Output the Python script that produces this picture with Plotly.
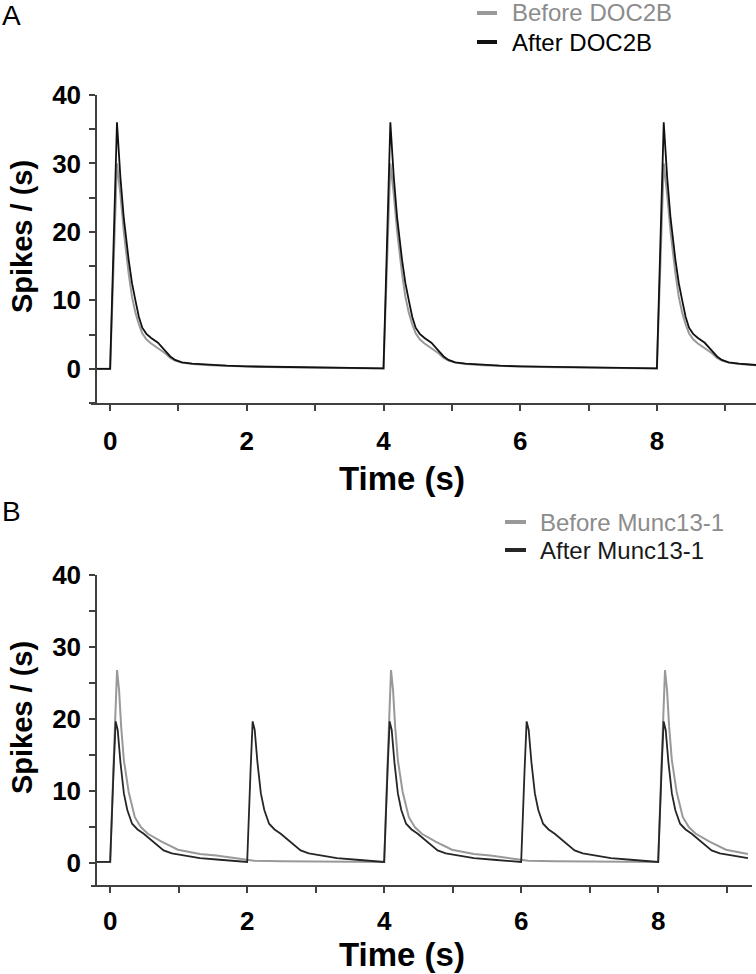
import plotly.graph_objects as go

# ---------------- Data ----------------
# Panel A: DOC2B
t_A = [-0.20, 0.00, 0.05, 0.10, 0.15, 0.20, 0.27, 0.32, 0.37, 0.42, 0.47, 0.53, 0.60, 0.70, 0.80, 0.88, 0.95, 1.05, 1.20, 1.45, 1.70, 2.00, 2.50, 3.00, 3.50,
       4.00, 4.05, 4.10, 4.15, 4.20, 4.27, 4.32, 4.37, 4.42, 4.47, 4.53, 4.60, 4.70, 4.80, 4.88, 4.95, 5.05, 5.20, 5.45, 5.70, 6.00, 6.50, 7.00, 7.50,
       8.00, 8.05, 8.10, 8.15, 8.20, 8.27, 8.32, 8.37, 8.42, 8.47, 8.53, 8.60, 8.70, 8.80, 8.88, 8.95, 9.05, 9.20, 9.45]
before_A = [0, 0, 15, 30, 25.5, 20, 14, 10.5, 8.2, 6.5, 5.2, 4.3, 3.7, 3.0, 2.3, 1.6, 1.2, 0.9, 0.7, 0.52, 0.42, 0.33, 0.23, 0.14, 0.08,
            0.05, 15, 30, 25.5, 20, 14, 10.5, 8.2, 6.5, 5.2, 4.3, 3.7, 3.0, 2.3, 1.6, 1.2, 0.9, 0.7, 0.52, 0.42, 0.33, 0.23, 0.14, 0.08,
            0.05, 15, 30, 25.5, 20, 14, 10.5, 8.2, 6.5, 5.2, 4.3, 3.7, 3.0, 2.3, 1.6, 1.2, 0.9, 0.7, 0.52]
after_A = [0, 0, 18, 36, 28, 22, 16, 12.5, 10, 7.6, 6.0, 5.1, 4.5, 3.8, 2.7, 1.8, 1.3, 0.95, 0.75, 0.55, 0.45, 0.35, 0.25, 0.15, 0.08,
           0.05, 18, 36, 28, 22, 16, 12.5, 10, 7.6, 6.0, 5.1, 4.5, 3.8, 2.7, 1.8, 1.3, 0.95, 0.75, 0.55, 0.45, 0.35, 0.25, 0.15, 0.08,
           0.05, 18, 36, 28, 22, 16, 12.5, 10, 7.6, 6.0, 5.1, 4.5, 3.8, 2.7, 1.8, 1.3, 0.95, 0.75, 0.55]

# Panel B: Munc13-1
t_B_before = [-0.20, 0.00, 0.05, 0.10, 0.13, 0.16, 0.20, 0.27, 0.36, 0.45, 0.55, 0.75, 0.99, 1.31, 1.55, 1.89, 2.10, 2.50, 3.00, 3.50, 3.98,
              4.00, 4.05, 4.10, 4.13, 4.16, 4.20, 4.27, 4.36, 4.45, 4.55, 4.75, 4.99, 5.31, 5.55, 5.89, 6.10, 6.50, 7.00, 7.50, 7.98,
              8.00, 8.05, 8.10, 8.13, 8.16, 8.20, 8.27, 8.36, 8.45, 8.55, 8.75, 8.99, 9.31]
before_B = [0.2, 0.2, 14, 26.8, 24, 19, 14.3, 9.9, 6.4, 5.0, 4.1, 3.0, 1.9, 1.3, 1.1, 0.65, 0.35, 0.3, 0.25, 0.22, 0.2,
            0.2, 14, 26.8, 24, 19, 14.3, 9.9, 6.4, 5.0, 4.1, 3.0, 1.9, 1.3, 1.1, 0.65, 0.35, 0.3, 0.25, 0.22, 0.2,
            0.2, 14, 26.8, 24, 19, 14.3, 9.9, 6.4, 5.0, 4.1, 3.0, 1.9, 1.3]

t_B_after = [-0.20, 0.00, 0.05, 0.08, 0.11, 0.15, 0.20, 0.25, 0.32, 0.40, 0.49, 0.63, 0.78, 0.90, 1.07, 1.31, 1.60, 1.98,
             2.00, 2.05, 2.08, 2.11, 2.15, 2.20, 2.25, 2.32, 2.40, 2.49, 2.63, 2.78, 2.90, 3.07, 3.31, 3.60, 3.98,
             4.00, 4.05, 4.08, 4.11, 4.15, 4.20, 4.25, 4.32, 4.40, 4.49, 4.63, 4.78, 4.90, 5.07, 5.31, 5.60, 5.98,
             6.00, 6.05, 6.08, 6.11, 6.15, 6.20, 6.25, 6.32, 6.40, 6.49, 6.63, 6.78, 6.90, 7.07, 7.31, 7.60, 7.98,
             8.00, 8.05, 8.08, 8.11, 8.15, 8.20, 8.25, 8.32, 8.40, 8.49, 8.63, 8.78, 8.90, 9.07, 9.31]
after_B = [0.2, 0.2, 13, 19.7, 18.5, 14, 9.7, 7.4, 5.5, 4.7, 4.1, 3.0, 1.8, 1.4, 1.1, 0.74, 0.5, 0.2,
           0.2, 13, 19.7, 18.5, 14, 9.7, 7.4, 5.5, 4.7, 4.1, 3.0, 1.8, 1.4, 1.1, 0.74, 0.5, 0.2,
           0.2, 13, 19.7, 18.5, 14, 9.7, 7.4, 5.5, 4.7, 4.1, 3.0, 1.8, 1.4, 1.1, 0.74, 0.5, 0.2,
           0.2, 13, 19.7, 18.5, 14, 9.7, 7.4, 5.5, 4.7, 4.1, 3.0, 1.8, 1.4, 1.1, 0.74, 0.5, 0.2,
           0.2, 13, 19.7, 18.5, 14, 9.7, 7.4, 5.5, 4.7, 4.1, 3.0, 1.8, 1.4, 1.1, 0.74]

x_tick_vals = [0, 1, 2, 3, 4, 5, 6, 7, 8, 9]
x_tick_text = ["0", "", "2", "", "4", "", "6", "", "8", ""]
yA_tick_vals = [-5, 0, 5, 10, 15, 20, 25, 30, 35, 40]
yA_tick_text = ["", "0", "", "10", "", "20", "", "30", "", "40"]
yB_tick_vals = [0, 5, 10, 15, 20, 25, 30, 35, 40]
yB_tick_text = ["0", "", "10", "", "20", "", "30", "", "40"]

names_A = ["Before DOC2B", "After DOC2B"]
names_B = ["Before Munc13-1", "After Munc13-1"]

# ---------------- Styling ----------------
W, H = 756, 974
FONT = "Arial, Liberation Sans, sans-serif"
GRAY = "#999999"
GRAY_TXT = "#8c8c8c"
BLACK_A = "#111111"
DARK_B = "#262626"
AXIS = "#404040"


def px(x):
    return x / W


def py(y):
    return 1 - y / H


fig = go.Figure()

# Panel A traces
fig.add_trace(go.Scatter(x=t_A, y=before_A, mode="lines", line=dict(color=GRAY, width=2),
                         name=names_A[0], xaxis="x", yaxis="y", showlegend=False, hoverinfo="skip"))
fig.add_trace(go.Scatter(x=t_A, y=after_A, mode="lines", line=dict(color=BLACK_A, width=1.8),
                         name=names_A[1], xaxis="x", yaxis="y", showlegend=False, hoverinfo="skip"))
# Panel B traces
fig.add_trace(go.Scatter(x=t_B_before, y=before_B, mode="lines", line=dict(color=GRAY, width=2),
                         name=names_B[0], xaxis="x2", yaxis="y2", showlegend=False, hoverinfo="skip"))
fig.add_trace(go.Scatter(x=t_B_after, y=after_B, mode="lines", line=dict(color=DARK_B, width=1.8),
                         name=names_B[1], xaxis="x2", yaxis="y2", showlegend=False, hoverinfo="skip"))

tickfont = dict(family=FONT, size=26, color="black", weight="bold")
common_x = dict(showline=True, linecolor=AXIS, linewidth=1.5, ticks="outside", ticklen=6,
                tickwidth=1.5, tickcolor=AXIS, showgrid=False, zeroline=False, automargin=False,
                tickmode="array", tickvals=x_tick_vals, ticktext=x_tick_text, tickfont=tickfont)
common_y = dict(showline=True, linecolor=AXIS, linewidth=1.5, ticks="outside", ticklen=6,
                tickwidth=1.5, tickcolor=AXIS, showgrid=False, zeroline=False, automargin=False,
                tickmode="array", tickfont=tickfont, anchor="free", position=px(96),
                ticklabelstandoff=3)

fig.update_layout(
    width=W, height=H,
    margin=dict(l=0, r=0, t=0, b=0, autoexpand=False),
    paper_bgcolor="white", plot_bgcolor="rgba(0,0,0,0)",
    showlegend=False,
    xaxis=dict(domain=[px(91), 1.0], range=[-0.28, 9.45], anchor="y", ticklabelstandoff=8, **common_x),
    yaxis=dict(domain=[py(403), py(95)], range=[-5, 40], tickvals=yA_tick_vals, ticktext=yA_tick_text, **common_y),
    xaxis2=dict(domain=[px(91), px(752)], range=[-0.28, 9.37], anchor="y2", ticklabelstandoff=6, **common_x),
    yaxis2=dict(domain=[py(885), py(575)], range=[-3, 40], tickvals=yB_tick_vals, ticktext=yB_tick_text, **common_y),
)

# Legends drawn as sample lines + text
legend_items = [
    (names_A[0], GRAY, GRAY_TXT, 477, 497, 510, 13),
    (names_A[1], BLACK_A, "#000000", 477, 497, 510, 42),
    (names_B[0], GRAY, GRAY_TXT, 505, 526, 538, 522),
    (names_B[1], DARK_B, "#1a1a1a", 505, 526, 538, 550),
]
shapes = []
annotations = []
for name, col, tcol, x0, x1, xt, yc in legend_items:
    shapes.append(dict(type="line", xref="paper", yref="paper", x0=px(x0), x1=px(x1),
                       y0=py(yc), y1=py(yc), line=dict(color=col, width=4)))
    annotations.append(dict(text=name, x=px(xt), y=py(yc), xref="paper", yref="paper", showarrow=False,
                            font=dict(family=FONT, size=24, color=tcol), xanchor="left", yanchor="middle"))

title_font = dict(family=FONT, size=33, color="black", weight="bold")
ytitle_font = dict(family=FONT, size=29, color="black", weight="bold")
panel_font = dict(family=FONT, size=28, color="black")
annotations += [
    dict(text="Time (s)", x=px(402), y=py(478), xref="paper", yref="paper", showarrow=False,
         font=title_font, xanchor="center", yanchor="middle"),
    dict(text="Time (s)", x=px(402), y=py(954), xref="paper", yref="paper", showarrow=False,
         font=title_font, xanchor="center", yanchor="middle"),
    dict(text="Spikes / (s)", x=px(22), y=py(237), xref="paper", yref="paper", showarrow=False,
         font=ytitle_font, textangle=-90, xanchor="center", yanchor="middle"),
    dict(text="Spikes / (s)", x=px(22), y=py(718), xref="paper", yref="paper", showarrow=False,
         font=ytitle_font, textangle=-90, xanchor="center", yanchor="middle"),
    dict(text="A", x=px(11), y=py(15), xref="paper", yref="paper", showarrow=False,
         font=panel_font, xanchor="center", yanchor="middle"),
    dict(text="B", x=px(11), y=py(511), xref="paper", yref="paper", showarrow=False,
         font=panel_font, xanchor="center", yanchor="middle"),
]
fig.update_layout(annotations=annotations, shapes=shapes)

fig.write_html("out.html", config={"displayModeBar": False},
               post_script="document.body.style.margin='0';document.body.style.overflow='hidden';")
